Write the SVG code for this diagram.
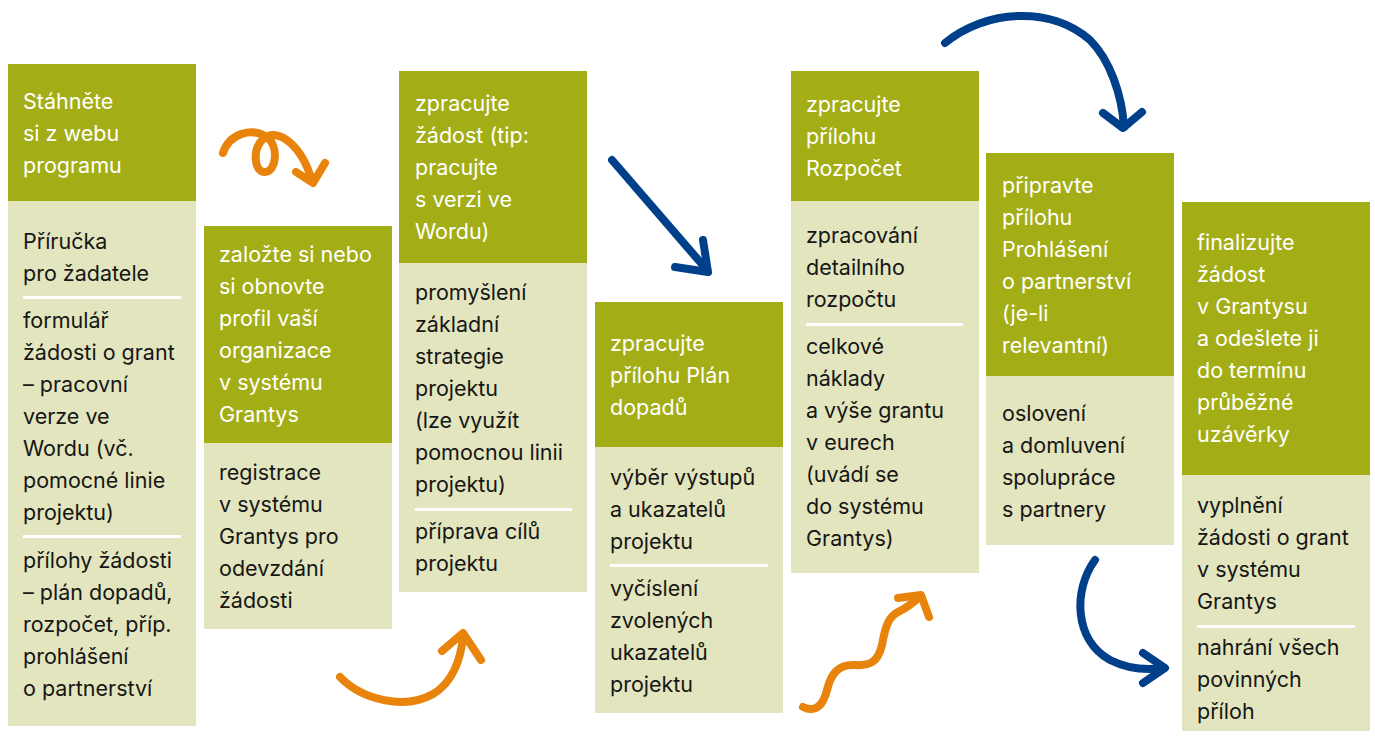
<svg xmlns="http://www.w3.org/2000/svg" width="1375" height="736" viewBox="0 0 1375 736">
<style>
.hd{fill:#A3AE17}
.bd{fill:#E2E5BD}
.sep{fill:#FFFFFF}
text{font-family:Inter,"Liberation Sans",sans-serif;font-size:21.5px}
.ht{fill:#FFFFFF}
.bt{fill:#161616}
.or{fill:none;stroke:#E8830B;stroke-width:8;stroke-linecap:round;stroke-linejoin:round}
.bl{fill:none;stroke:#00408A;stroke-width:8;stroke-linecap:round;stroke-linejoin:round}
</style>
<rect width="1375" height="736" fill="#FFFFFF"/>
<g id="connectors">
<path class="or" d="M223,153 C229,134 252,126 268,138 C279,148 276,172 265,172 C254,172 252,150 263,139 C278,126 302,146 312,181"/>
<path class="or" d="M296,172 L313,183 L325,163"/>
<path class="bl" d="M612,160 L707,270"/>
<path class="bl" d="M703,240 L708,272 L675,267"/>
<path class="or" d="M340,677 C362,700 405,710 433,694 C452,683 461,660 463,636"/>
<path class="or" d="M442,651 L463,633 L481,660"/>
<path class="or" d="M803,707 C815,713 823,706 827,690 C831,674 838,664 855,665 C870,666 878,662 882,645 C885,628 888,616 900,611 C908,607 915,601 921,596"/>
<path class="or" d="M898,598 L921,595 L929,617"/>
<path class="bl" d="M945,43 C985,10 1050,5 1090,40 C1110,60 1122,95 1124,127"/>
<path class="bl" d="M1103,113 L1123,128 L1142,112"/>
<path class="bl" d="M1095,560 C1073,590 1074,640 1110,660 C1130,670 1150,670 1164,668"/>
<path class="bl" d="M1143,653 L1165,668 L1143,683"/>
</g>
<g id="step1">
<rect class="hd" x="8" y="64" width="188" height="137"/>
<rect class="bd" x="8" y="201" width="188" height="525"/>
<text class="ht" x="23" y="109">Stáhněte</text>
<text class="ht" x="23" y="141">si z webu</text>
<text class="ht" x="23" y="173">programu</text>
<text class="bt" x="23" y="249">Příručka</text>
<text class="bt" x="23" y="281">pro žadatele</text>
<rect class="sep" x="23" y="296" width="158" height="3"/>
<text class="bt" x="23" y="328">formulář</text>
<text class="bt" x="23" y="360">žádosti o grant</text>
<text class="bt" x="23" y="392">– pracovní</text>
<text class="bt" x="23" y="424">verze ve</text>
<text class="bt" x="23" y="456">Wordu (vč.</text>
<text class="bt" x="23" y="488">pomocné linie</text>
<text class="bt" x="23" y="520">projektu)</text>
<rect class="sep" x="23" y="535" width="158" height="3"/>
<text class="bt" x="23" y="568">přílohy žádosti</text>
<text class="bt" x="23" y="600">– plán dopadů,</text>
<text class="bt" x="23" y="632">rozpočet, příp.</text>
<text class="bt" x="23" y="664">prohlášení</text>
<text class="bt" x="23" y="696">o partnerství</text>
</g>
<g id="step2">
<rect class="hd" x="204" y="226" width="188" height="217"/>
<rect class="bd" x="204" y="443" width="188" height="186"/>
<text class="ht" x="219" y="262">založte si nebo</text>
<text class="ht" x="219" y="294">si obnovte</text>
<text class="ht" x="219" y="326">profil vaší</text>
<text class="ht" x="219" y="358">organizace</text>
<text class="ht" x="219" y="390">v systému</text>
<text class="ht" x="219" y="422">Grantys</text>
<text class="bt" x="219" y="480">registrace</text>
<text class="bt" x="219" y="512">v systému</text>
<text class="bt" x="219" y="544">Grantys pro</text>
<text class="bt" x="219" y="576">odevzdání</text>
<text class="bt" x="219" y="608">žádosti</text>
</g>
<g id="step3">
<rect class="hd" x="399" y="71" width="188" height="192"/>
<rect class="bd" x="399" y="263" width="188" height="329"/>
<text class="ht" x="415" y="111">zpracujte</text>
<text class="ht" x="415" y="143">žádost (tip:</text>
<text class="ht" x="415" y="175">pracujte</text>
<text class="ht" x="415" y="207">s verzi ve</text>
<text class="ht" x="415" y="239">Wordu)</text>
<text class="bt" x="415" y="300">promyšlení</text>
<text class="bt" x="415" y="332">základní</text>
<text class="bt" x="415" y="364">strategie</text>
<text class="bt" x="415" y="396">projektu</text>
<text class="bt" x="415" y="428">(lze využít</text>
<text class="bt" x="415" y="460">pomocnou linii</text>
<text class="bt" x="415" y="492">projektu)</text>
<rect class="sep" x="415" y="508" width="157" height="3"/>
<text class="bt" x="415" y="539">příprava cílů</text>
<text class="bt" x="415" y="571">projektu</text>
</g>
<g id="step4">
<rect class="hd" x="595" y="302" width="188" height="145"/>
<rect class="bd" x="595" y="447" width="188" height="266"/>
<text class="ht" x="610" y="351">zpracujte</text>
<text class="ht" x="610" y="383">přílohu Plán</text>
<text class="ht" x="610" y="415">dopadů</text>
<text class="bt" x="610" y="485">výběr výstupů</text>
<text class="bt" x="610" y="517">a ukazatelů</text>
<text class="bt" x="610" y="549">projektu</text>
<rect class="sep" x="610" y="564" width="158" height="3"/>
<text class="bt" x="610" y="596">vyčíslení</text>
<text class="bt" x="610" y="628">zvolených</text>
<text class="bt" x="610" y="660">ukazatelů</text>
<text class="bt" x="610" y="692">projektu</text>
</g>
<g id="step5">
<rect class="hd" x="791" y="71" width="188" height="130"/>
<rect class="bd" x="791" y="201" width="188" height="372"/>
<text class="ht" x="806" y="112">zpracujte</text>
<text class="ht" x="806" y="144">přílohu</text>
<text class="ht" x="806" y="176">Rozpočet</text>
<text class="bt" x="806" y="243">zpracování</text>
<text class="bt" x="806" y="275">detailního</text>
<text class="bt" x="806" y="307">rozpočtu</text>
<rect class="sep" x="806" y="323" width="157" height="3"/>
<text class="bt" x="806" y="354">celkové</text>
<text class="bt" x="806" y="386">náklady</text>
<text class="bt" x="806" y="418">a výše grantu</text>
<text class="bt" x="806" y="450">v eurech</text>
<text class="bt" x="806" y="482">(uvádí se</text>
<text class="bt" x="806" y="514">do systému</text>
<text class="bt" x="806" y="546">Grantys)</text>
</g>
<g id="step6">
<rect class="hd" x="986" y="153" width="188" height="223"/>
<rect class="bd" x="986" y="376" width="188" height="169"/>
<text class="ht" x="1002" y="193">připravte</text>
<text class="ht" x="1002" y="225">přílohu</text>
<text class="ht" x="1002" y="257">Prohlášení</text>
<text class="ht" x="1002" y="289">o partnerství</text>
<text class="ht" x="1002" y="321">(je-li</text>
<text class="ht" x="1002" y="353">relevantní)</text>
<text class="bt" x="1002" y="421">oslovení</text>
<text class="bt" x="1002" y="453">a domluvení</text>
<text class="bt" x="1002" y="485">spolupráce</text>
<text class="bt" x="1002" y="517">s partnery</text>
</g>
<g id="step7">
<rect class="hd" x="1182" y="202" width="188" height="273"/>
<rect class="bd" x="1182" y="475" width="188" height="256"/>
<text class="ht" x="1197" y="250">finalizujte</text>
<text class="ht" x="1197" y="282">žádost</text>
<text class="ht" x="1197" y="314">v Grantysu</text>
<text class="ht" x="1197" y="346">a odešlete ji</text>
<text class="ht" x="1197" y="378">do termínu</text>
<text class="ht" x="1197" y="410">průběžné</text>
<text class="ht" x="1197" y="442">uzávěrky</text>
<text class="bt" x="1197" y="513">vyplnění</text>
<text class="bt" x="1197" y="545">žádosti o grant</text>
<text class="bt" x="1197" y="577">v systému</text>
<text class="bt" x="1197" y="609">Grantys</text>
<rect class="sep" x="1197" y="625" width="158" height="3"/>
<text class="bt" x="1197" y="655">nahrání všech</text>
<text class="bt" x="1197" y="687">povinných</text>
<text class="bt" x="1197" y="719">příloh</text>
</g>
</svg>
